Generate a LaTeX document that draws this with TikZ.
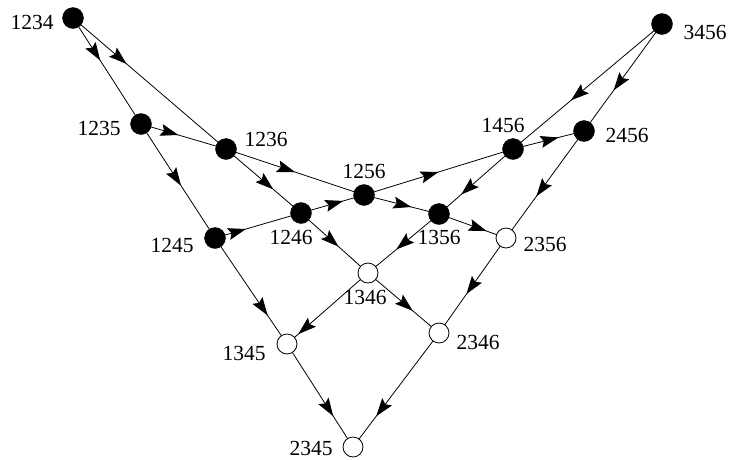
\documentclass[tikz,border=0pt]{standalone}
\usepackage{fontspec}
\setmainfont{Liberation Serif}
\usetikzlibrary{arrows.meta,decorations.markings,backgrounds}
\begin{document}
\begin{tikzpicture}[x=1pt,y=-1pt,
  full/.style={circle,fill=black,draw=black,minimum size=21pt,inner sep=0pt},
  hollow/.style={circle,fill=white,draw=black,line width=0.8pt,minimum size=20pt,inner sep=0pt},
  lab/.style={inner sep=0pt,font=\fontsize{21.5}{25}\selectfont},
  edge/.style={line width=0.8pt},
  mk/.style={edge,postaction={decorate},decoration={markings,
     mark=at position #1 with {\arrow{Stealth[length=18pt,width=12pt,inset=3pt]}}}}
]
\useasboundingbox (0,0) rectangle (729,459);
% vertices
\node[full] (a1234) at (73,18) {};
\node[full] (a3456) at (662,24) {};
\node[full] (a1235) at (141,124) {};
\node[full] (a1236) at (226,149) {};
\node[full] (a1456) at (513,149) {};
\node[full] (a2456) at (584,131) {};
\node[full] (a1256) at (364,195) {};
\node[full] (a1246) at (301,213) {};
\node[full] (a1356) at (439,214) {};
\node[full] (a1245) at (215,238) {};
\node[hollow] (a2356) at (506,238) {};
\node[hollow] (a1346) at (368,273) {};
\node[hollow] (a1345) at (287,344) {};
\node[hollow] (a2346) at (439,333) {};
\node[hollow] (a2345) at (353,447) {};
% labels
\node[lab] (l1234) at (32,22) {1234};
\node[lab] (l1235) at (99,128) {1235};
\node[lab] (l1236) at (266,139) {1236};
\node[lab] (l1256) at (364,171) {1256};
\node[lab] (l1246) at (291,237) {1246};
\node[lab] (l1356) at (439,237) {1356};
\node[lab] (l1245) at (172,245) {1245};
\node[lab] (l1456) at (503,125) {1456};
\node[lab] (l2456) at (627,135) {2456};
\node[lab] (l3456) at (705,32) {3456};
\node[lab] (l2356) at (545,244) {2356};
\node[lab] (l1346) at (365,297) {1346};
\node[lab] (l1345) at (244,353) {1345};
\node[lab] (l2346) at (478,342) {2346};
\node[lab] (l2345) at (311,448) {2345};
% edges
\begin{scope}[on background layer]
\draw[mk=0.40] (a1234.center) -- (a1235.center);
\draw[mk=0.35] (a1234.center) -- (a1236.center);
\draw[mk=0.44] (a1235.center) -- (a1236.center);
\draw[mk=0.54] (a1235.center) -- (a1245.center);
\draw[mk=0.63] (a1236.center) -- (a1246.center);
\draw[mk=0.50] (a1236.center) -- (a1256.center);
\draw[mk=0.67] (a1246.center) -- (a1256.center);
\draw[mk=0.36] (a1245.center) -- (a1246.center);
\draw[mk=0.63] (a1256.center) -- (a1356.center);
\draw[mk=0.50] (a1256.center) -- (a1456.center);
\draw[mk=0.70] (a1456.center) -- (a1356.center);
\draw[mk=0.56] (a1246.center) -- (a1346.center);
\draw[mk=0.60] (a1356.center) -- (a1346.center);
\draw[mk=0.71] (a1356.center) -- (a2356.center);
\draw[mk=0.61] (a3456.center) -- (a1456.center);
\draw[mk=0.62] (a3456.center) -- (a2456.center);
\draw[mk=0.64] (a1456.center) -- (a2456.center);
\draw[mk=0.61] (a2456.center) -- (a2356.center);
\draw[mk=0.59] (a2356.center) -- (a2346.center);
\draw[mk=0.73] (a1245.center) -- (a1345.center);
\draw[mk=0.86] (a1346.center) -- (a1345.center);
\draw[mk=0.63] (a1346.center) -- (a2346.center);
\draw[mk=0.70] (a1345.center) -- (a2345.center);
\draw[mk=0.73] (a2346.center) -- (a2345.center);
\end{scope}
\end{tikzpicture}
\end{document}
